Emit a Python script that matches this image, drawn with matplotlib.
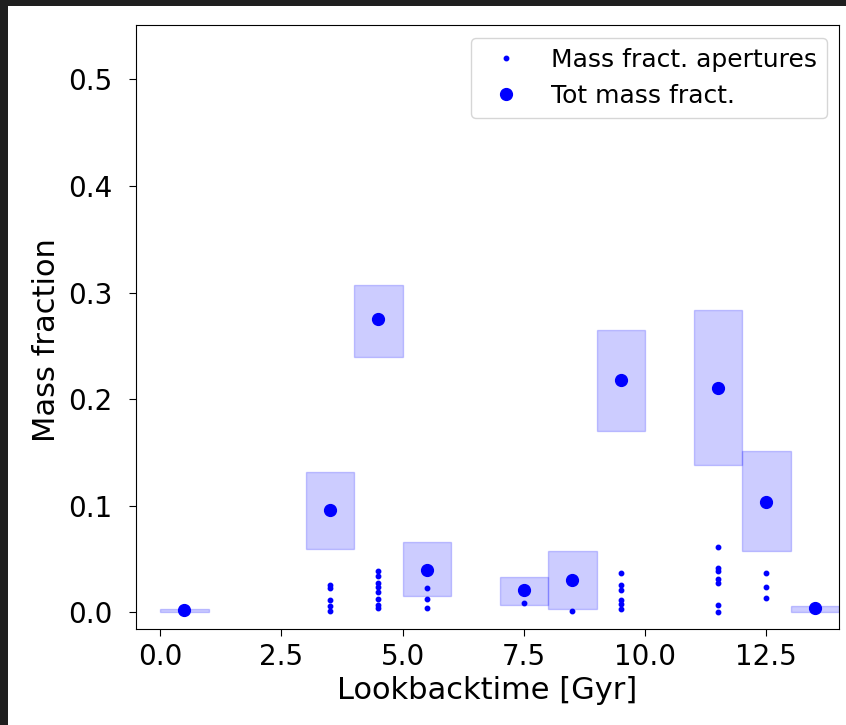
import matplotlib
matplotlib.use("Agg")
import matplotlib.pyplot as plt
from matplotlib.patches import Rectangle

# Bin centres (Gyr)
bin_centers = [0.5, 3.5, 4.5, 5.5, 7.5, 8.5, 9.5, 11.5, 12.5, 13.5]
tot_mass = [0.002, 0.096, 0.275, 0.040, 0.021, 0.030, 0.218, 0.211, 0.104, 0.004]
box_low = [0.000, 0.060, 0.240, 0.015, 0.007, 0.003, 0.170, 0.138, 0.058, 0.000]
box_high = [0.003, 0.132, 0.307, 0.066, 0.033, 0.058, 0.265, 0.284, 0.151, 0.006]

# Aperture mass fractions per bin
ap_x = [0.5,
        3.5, 3.5, 3.5, 3.5, 3.5,
        4.5, 4.5, 4.5, 4.5, 4.5, 4.5, 4.5, 4.5,
        5.5, 5.5, 5.5,
        7.5,
        8.5,
        9.5, 9.5, 9.5, 9.5, 9.5, 9.5,
        11.5, 11.5, 11.5, 11.5, 11.5, 11.5, 11.5,
        12.5, 12.5, 12.5,
        13.5]
ap_y = [0.002,
        0.026, 0.023, 0.012, 0.006, 0.001,
        0.039, 0.034, 0.028, 0.024, 0.019, 0.013, 0.007, 0.004,
        0.023, 0.013, 0.004,
        0.009,
        0.001,
        0.037, 0.026, 0.021, 0.012, 0.008, 0.003,
        0.061, 0.042, 0.039, 0.031, 0.028, 0.007, 0.000,
        0.037, 0.024, 0.014,
        0.003]

fig = plt.figure(figsize=(8.46, 7.25), dpi=100, facecolor="#1f1f1f")
fig.patches.append(Rectangle((8/846, 0), 1 - 8/846, 1 - 6/725,
                             transform=fig.transFigure, facecolor="white",
                             edgecolor="none", zorder=-10))
ax = fig.add_axes([136/846, 1 - 629/725, (839 - 136)/846, (629 - 25)/725])

heights = [h - l for h, l in zip(box_high, box_low)]
ax.bar(bin_centers, heights, bottom=box_low, width=1.0, color="blue",
       alpha=0.2, edgecolor="blue", linewidth=1)

ax.plot(ap_x, ap_y, "o", color="blue", markersize=3.2, linestyle="none",
        label="Mass fract. apertures")
ax.plot(bin_centers, tot_mass, "o", color="blue", markersize=8.5,
        linestyle="none", label="Tot mass fract.")

ax.set_xlim(-0.5, 14.0)
ax.set_ylim(-0.0155, 0.551)
ax.set_xticks([0.0, 2.5, 5.0, 7.5, 10.0, 12.5])
ax.set_yticks([0.0, 0.1, 0.2, 0.3, 0.4, 0.5])
ax.tick_params(labelsize=20, length=5)
ax.tick_params(axis="x", pad=5)
ax.tick_params(axis="y", pad=12)
ax.set_xlabel("Lookbacktime [Gyr]", fontsize=22)
ax.set_ylabel("Mass fraction", fontsize=22)
ax.yaxis.set_label_coords(-0.107, 0.478)
ax.xaxis.set_label_coords(0.5, -0.078)
ax.legend(loc="upper right", fontsize=18)

fig.savefig("out.png", dpi=100, facecolor=fig.get_facecolor())
